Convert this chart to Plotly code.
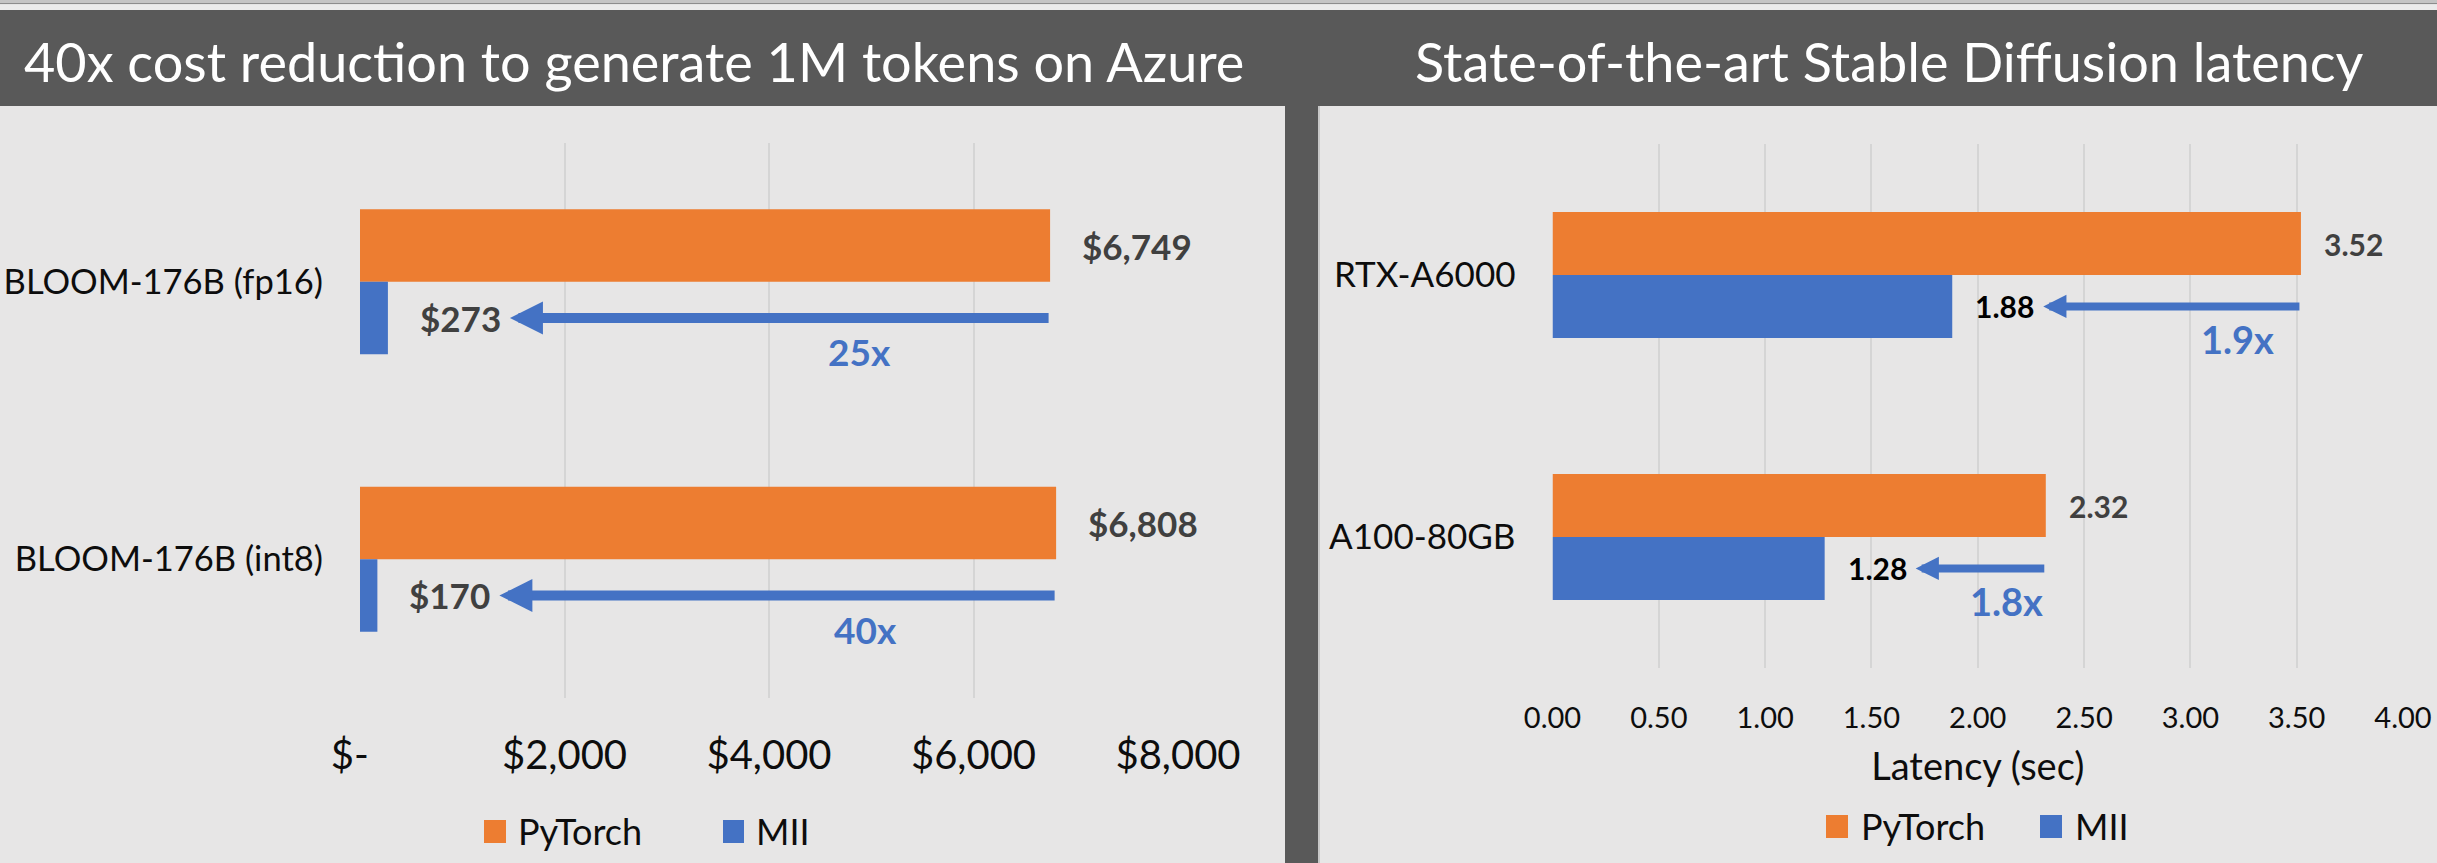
import plotly.graph_objects as go

# ---------------- data ----------------
series_names = ["PyTorch", "MII"]

llm_models = ["BLOOM-176B (fp16)", "BLOOM-176B (int8)"]
llm_pytorch_cost = [6749, 6808]
llm_mii_cost = [273, 170]
cost_ticks = [0, 2000, 4000, 6000, 8000]
cost_tick_labels = ["$-\u00a0\u00a0", "$2,000", "$4,000", "$6,000", "$8,000"]

sd_gpus = ["RTX-A6000", "A100-80GB"]
sd_pytorch_latency = [3.52, 2.32]
sd_mii_latency = [1.88, 1.28]
latency_ticks = [0.0, 0.5, 1.0, 1.5, 2.0, 2.5, 3.0, 3.5, 4.0]
latency_tick_labels = ["0.00", "0.50", "1.00", "1.50", "2.00", "2.50", "3.00", "3.50", "4.00"]

left_title = "40x cost reduction to generate 1M tokens on Azure"
right_title = "State-of-the-art Stable Diffusion latency"
right_axis_title = "Latency (sec)"

# ---------------- style ----------------
W, H = 2437, 863
ORANGE = "#ED7D31"
BLUE = "#4472C4"
BG = "#E7E6E6"
DARK = "#595959"
GRID = "#D5D5D5"
LABEL_GRAY = "#404040"
TXT = "#0d0d0d"
FONT = "Lato"


def fx(p):
    return p / W


def fy(p):
    return 1 - p / H


fig = go.Figure()

# bar thickness in category units
WL = 0.261
WR = 0.24

cat_idx_l = list(range(len(llm_models)))
cat_idx_r = list(range(len(sd_gpus)))

fig.add_trace(go.Bar(y=cat_idx_l, x=llm_pytorch_cost, orientation="h", width=WL, offset=-WL,
                     marker=dict(color=ORANGE, line=dict(width=0)), name=series_names[0],
                     xaxis="x", yaxis="y", showlegend=False, hoverinfo="x"))
fig.add_trace(go.Bar(y=cat_idx_l, x=llm_mii_cost, orientation="h", width=WL, offset=0,
                     marker=dict(color=BLUE, line=dict(width=0)), name=series_names[1],
                     xaxis="x", yaxis="y", showlegend=False, hoverinfo="x"))
fig.add_trace(go.Bar(y=cat_idx_r, x=sd_pytorch_latency, orientation="h", width=WR, offset=-WR,
                     marker=dict(color=ORANGE, line=dict(width=0)), name=series_names[0],
                     xaxis="x2", yaxis="y2", showlegend=False, hoverinfo="x"))
fig.add_trace(go.Bar(y=cat_idx_r, x=sd_mii_latency, orientation="h", width=WR, offset=0,
                     marker=dict(color=BLUE, line=dict(width=0)), name=series_names[1],
                     xaxis="x2", yaxis="y2", showlegend=False, hoverinfo="x"))

annotations = []
shapes = []

# ---- left chart labels and arrows ----
for i in cat_idx_l:
    p, m = llm_pytorch_cost[i], llm_mii_cost[i]
    annotations.append(dict(x=p, y=i - WL / 2, xref="x", yref="y", text=f"<b>${p:,}</b>",
                            showarrow=False, xanchor="left", yanchor="middle", xshift=30,
                            font=dict(family=FONT, size=35, color=LABEL_GRAY)))
    annotations.append(dict(x=m, y=i + WL / 2, xref="x", yref="y", text=f"<b>${m:,}</b>",
                            showarrow=False, xanchor="left", yanchor="middle", xshift=30,
                            font=dict(family=FONT, size=35, color=LABEL_GRAY)))
    annotations.append(dict(x=m, y=i + WL / 2, xref="x", yref="y", ax=p, ay=i + WL / 2,
                            axref="x", ayref="y", text="", showarrow=True, arrowhead=2,
                            arrowwidth=10, arrowsize=0.66, arrowcolor=BLUE, standoff=122))
    annotations.append(dict(x=p, y=i + WL / 2, xref="x", yref="y", text=f"<b>{round(p / m)}x</b>",
                            showarrow=False, xanchor="right", yanchor="middle", xshift=-157,
                            yshift=-34, font=dict(family=FONT, size=37, color=BLUE)))

# ---- right chart labels and arrows ----
speed_shift_r = [-25, -1]
for i in cat_idx_r:
    p, m = sd_pytorch_latency[i], sd_mii_latency[i]
    annotations.append(dict(x=p, y=i - WR / 2, xref="x2", yref="y2", text=f"<b>{p:.2f}</b>",
                            showarrow=False, xanchor="left", yanchor="middle", xshift=21,
                            font=dict(family=FONT, size=30, color=LABEL_GRAY)))
    annotations.append(dict(x=m, y=i + WR / 2, xref="x2", yref="y2", text=f"<b>{m:.2f}</b>",
                            showarrow=False, xanchor="left", yanchor="middle", xshift=21,
                            font=dict(family=FONT, size=30, color="#000000")))
    annotations.append(dict(x=m, y=i + WR / 2, xref="x2", yref="y2", ax=p, ay=i + WR / 2,
                            axref="x2", ayref="y2", text="", showarrow=True, arrowhead=2,
                            arrowwidth=8, arrowsize=0.58, arrowcolor=BLUE, standoff=91))
    annotations.append(dict(x=p, y=i + WR / 2, xref="x2", yref="y2", text=f"<b>{p / m:.1f}x</b>",
                            showarrow=False, xanchor="right", yanchor="middle",
                            xshift=speed_shift_r[i], yshift=-33,
                            font=dict(family=FONT, size=38, color=BLUE)))

# ---- header, titles, divider ----
shapes.append(dict(type="rect", xref="paper", yref="paper", x0=0, x1=1, y0=fy(3), y1=1,
                   fillcolor="#C4C4C4", line=dict(width=0), layer="below"))
shapes.append(dict(type="rect", xref="paper", yref="paper", x0=0, x1=1, y0=fy(4.2), y1=fy(3),
                   fillcolor="#8C8C8C", line=dict(width=0), layer="below"))
shapes.append(dict(type="rect", xref="paper", yref="paper", x0=0, x1=1, y0=fy(10), y1=fy(4.2),
                   fillcolor="#EBEBEB", line=dict(width=0), layer="below"))
shapes.append(dict(type="rect", xref="paper", yref="paper", x0=0, x1=1, y0=fy(106), y1=fy(10),
                   fillcolor=DARK, line=dict(width=0), layer="below"))
shapes.append(dict(type="rect", xref="paper", yref="paper", x0=fx(1285), x1=fx(1318), y0=0, y1=fy(106),
                   fillcolor=DARK, line=dict(width=0), layer="below"))
shapes.append(dict(type="rect", xref="paper", yref="paper", x0=fx(1318), x1=fx(1320), y0=0, y1=fy(106),
                   fillcolor="#C8C8C8", line=dict(width=0), layer="below"))

annotations.append(dict(x=fx(634), y=fy(61), xref="paper", yref="paper", text=left_title,
                        showarrow=False, xanchor="center", yanchor="middle",
                        font=dict(family=FONT, size=54, color="#FFFFFF")))
annotations.append(dict(x=fx(1889), y=fy(61), xref="paper", yref="paper", text=right_title,
                        showarrow=False, xanchor="center", yanchor="middle",
                        font=dict(family=FONT, size=54, color="#FFFFFF")))

# ---- manual legends ----
legend_boxes = [
    [(484, 506, 820, 843, 516, 831), (723, 744, 820, 843, 754, 831)],
    [(1826, 1848, 815, 838, 1859, 826), (2040, 2062, 815, 838, 2073, 826)],
]
series_colors = [ORANGE, BLUE]
for panel in legend_boxes:
    for k, (x0, x1, y0, y1, tx, ty) in enumerate(panel):
        shapes.append(dict(type="rect", xref="paper", yref="paper", x0=fx(x0), x1=fx(x1),
                           y0=fy(y1), y1=fy(y0), fillcolor=series_colors[k], line=dict(width=0)))
        annotations.append(dict(x=fx(tx), y=fy(ty), xref="paper", yref="paper", text=series_names[k],
                                showarrow=False, xanchor="left", yanchor="middle",
                                font=dict(family=FONT, size=36, color=TXT)))

fig.update_layout(
    template="none",
    width=W, height=H,
    margin=dict(l=0, r=0, t=0, b=0, pad=0, autoexpand=False),
    paper_bgcolor=BG, plot_bgcolor="rgba(0,0,0,0)",
    barmode="overlay",
    font=dict(family=FONT, color=TXT),
    showlegend=False,
    xaxis=dict(domain=[fx(360), fx(1178)], range=[0, 8000], tickvals=cost_ticks,
               ticktext=cost_tick_labels, showgrid=True, gridcolor=GRID, gridwidth=2,
               zeroline=False, showline=False, ticks="", ticklabelstandoff=30, automargin=False,
               tickfont=dict(family=FONT, size=40, color=TXT), anchor="y", fixedrange=True),
    yaxis=dict(domain=[fy(698), fy(143)], range=[1.5, -0.5], tickvals=cat_idx_l, ticktext=llm_models,
               showgrid=False, zeroline=False, showline=False, ticks="", ticklabelstandoff=36,
               automargin=False,
               tickfont=dict(family=FONT, size=34.5, color=TXT), anchor="x", fixedrange=True),
    xaxis2=dict(domain=[fx(1552.5), fx(2403)], range=[0, 4], tickvals=latency_ticks,
                ticktext=latency_tick_labels, showgrid=True, gridcolor=GRID, gridwidth=2,
                zeroline=False, showline=False, ticks="", ticklabelstandoff=30, automargin=False,
                tickfont=dict(family=FONT, size=29, color=TXT), anchor="y2", fixedrange=True,
                title=dict(text=right_axis_title, font=dict(family=FONT, size=38, color=TXT), standoff=20)),
    yaxis2=dict(domain=[fy(668), fy(144)], range=[1.5, -0.5], tickvals=cat_idx_r, ticktext=sd_gpus,
                showgrid=False, zeroline=False, showline=False, ticks="", ticklabelstandoff=36,
                automargin=False,
                tickfont=dict(family=FONT, size=35, color=TXT), anchor="x2", fixedrange=True),
    annotations=annotations,
    shapes=shapes,
)

fig.write_html("out.html")
